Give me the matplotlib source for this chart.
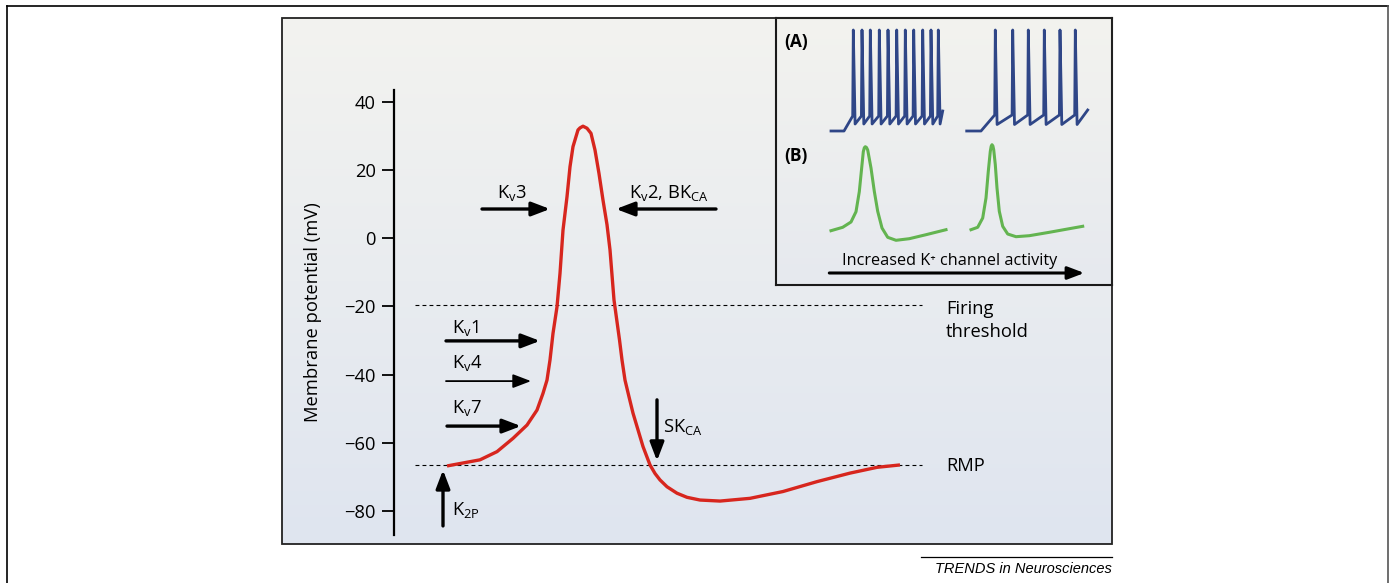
"""Action potential with K+ channel contributions (recreated figure)."""

import numpy as np
import matplotlib
matplotlib.use("Agg")
import matplotlib.pyplot as plt
from matplotlib.colors import LinearSegmentedColormap
from matplotlib.patches import Rectangle
from matplotlib.lines import Line2D

plt.rcParams["font.family"] = ["Open Sans", "DejaVu Sans"]
plt.rcParams["axes.unicode_minus"] = True

W, H = 1394, 583
FS = 13.2

# ---- main trace: action potential (time in a.u., membrane potential in mV)
ap_t = [5.3, 8.6, 10.3, 11.9, 13.3, 14.3, 14.9, 15.3, 15.6, 15.9, 16.3, 16.6,
        16.9, 17.3, 17.6, 17.9, 18.4, 18.6, 18.9, 19.3, 19.7, 20.1, 20.5, 20.9,
        21.3, 21.6, 22.0, 22.55, 22.8, 23.1, 23.5, 23.9, 24.4, 24.9, 25.6, 26.1,
        26.6, 27.3, 28.3, 29.3, 30.6, 32.6, 35.6, 38.9, 42.3, 45.6, 48.3, 50.6]
ap_mv = [-66.8, -65.0, -62.6, -58.7, -54.8, -50.4, -45.5, -41.6, -35.7, -27.9,
         -20.1, -10.3, 2.4, 12.2, 21.0, 26.9, 31.8, 32.4, 32.9, 32.3, 30.8, 25.9,
         19.0, 11.2, 4.0, -3.4, -18.1, -29.8, -35.7, -41.6, -46.5, -51.3, -56.2,
         -61.1, -66.5, -69.0, -70.9, -72.9, -74.8, -76.0, -76.8, -77.1, -76.3,
         -74.3, -71.4, -68.9, -67.2, -66.5]

yticks = [40, 20, 0, -20, -40, -60, -80]
threshold_mv = -19.5
rmp_mv = -66.6

# ---- channel arrows (horizontal: from t, to t, level mV)
h_labels = ["K$_\\mathregular{v}$1", "K$_\\mathregular{v}$4", "K$_\\mathregular{v}$7",
            "K$_\\mathregular{v}$3", "K$_\\mathregular{v}$2, BK$_\\mathregular{CA}$"]
h_from = [5.2, 5.2, 5.3, 8.8, 32.2]
h_to = [14.6, 13.7, 12.7, 15.6, 22.2]
h_mv = [-30.1, -41.9, -55.1, 8.6, 8.6]

# vertical arrows (t, from mV, to mV)
v_labels = ["K$_\\mathregular{2P}$", "SK$_\\mathregular{CA}$"]
v_t = [4.9, 26.3]
v_from = [-84.4, -47.4]
v_to = [-68.0, -65.3]

# ---- inset traces (inset units)
train_a_spikes = [77.3, 86.0, 94.3, 103.3, 112.0, 120.7, 129.3, 137.7, 146.7, 155.0, 162.3]
train_b_spikes = [219.3, 236.7, 252.3, 268.3, 284.0, 299.3]

green_a_x = [55, 66.7, 75, 80, 83.3, 85.3, 87.3, 88.3, 89.3, 90.5, 91.7, 95, 98.3,
             101.7, 106, 111.7, 120, 133.3, 150, 170]
green_a_y = [54.3, 57.7, 63, 73.3, 93.3, 113.3, 133.3, 137.2, 138.3, 137.5, 135,
             117, 93.7, 73.7, 57, 47.7, 44.7, 46.3, 50.3, 55.3]
green_b_x = [195, 201.7, 206.7, 210, 212.3, 214.3, 215.2, 216, 216.9, 217.7, 219.3,
             221, 223.3, 226.7, 231.7, 240, 253.3, 273.3, 293.3, 306.7]
green_b_y = [55.3, 57.7, 67, 87, 113.7, 133.7, 138.8, 140.3, 139, 135.3, 120.3,
             97, 73.7, 58.7, 51, 48.3, 49.3, 52.7, 56.3, 58.7]


def spike_train(x0, x1, spikes, x_end, base, pre, peak, trough):
    xs, ys = [x0, x1], [base, base]
    for s in spikes:
        xs += [s - 0.6, s, s + 1.8]
        ys += [pre, peak, trough]
    xs.append(x_end)
    ys.append(pre + 5)
    return xs, ys


def arrow(ax, start, end, lw, hl=1.1, hw=0.42):
    ax.annotate("", xy=end, xytext=start,
                arrowprops=dict(arrowstyle=f"-|>,head_length={hl},head_width={hw}",
                                lw=lw, color="black", shrinkA=0, shrinkB=0,
                                mutation_scale=10))


fig = plt.figure(figsize=(W / 100, H / 100), dpi=100)

# outer frame
fig.add_artist(Line2D([6.5 / W, 6.5 / W], [0, 1 - 5.5 / H], color="black", lw=1.2))
fig.add_artist(Line2D([6.5 / W, 1387.5 / W], [1 - 5.5 / H] * 2, color="black", lw=1.2))
fig.add_artist(Line2D([1387.5 / W] * 2, [0, 1 - 5.5 / H], color="#555555", lw=1.2))

ax = fig.add_axes([282 / W, 1 - 544 / H, 830 / W, 526 / H])
xlim = (-11.2, 71.8)
ylim = (-89.7, 64.65)
grad = LinearSegmentedColormap.from_list("bg", ["#dfe5f0", "#f3f3ef"])
ax.imshow(np.linspace(0, 1, 256).reshape(-1, 1), extent=[*xlim, *ylim],
          aspect="auto", cmap=grad, origin="lower", zorder=0)
ax.set_xlim(*xlim)
ax.set_ylim(*ylim)

for s in ["top", "right", "bottom"]:
    ax.spines[s].set_visible(False)
ax.spines["left"].set_position(("data", 0))
ax.spines["left"].set_bounds(-87, 43.5)
ax.spines["left"].set_linewidth(1.6)
ax.set_xticks([])
ax.set_yticks(yticks)
ax.tick_params(axis="y", length=8.5, width=1.3, pad=4.5, labelsize=FS)
ax.text(-8.1, -21.8, "Membrane potential (mV)", rotation=90, ha="center",
        va="center", fontsize=FS)

# threshold / RMP
ax.hlines([threshold_mv, rmp_mv], 2.1, 52.8, colors="black", lw=0.8,
          linestyles=(0, (3.5, 2.8)), zorder=2)
ax.text(55.2, -22.3, "Firing", ha="left", va="baseline", fontsize=FS)
ax.text(55.2, -29.0, "threshold", ha="left", va="baseline", fontsize=FS)
ax.text(55.2, -68.2, "RMP", ha="left", va="baseline", fontsize=FS)

# action potential
ax.plot(ap_t, ap_mv, color="#d7261e", lw=2.4, solid_joinstyle="round",
        solid_capstyle="butt", zorder=4)

# arrows
lws = [2.4, 1.3, 2.4, 2.4, 2.4]
lab_t = [5.8, 5.8, 5.8, 10.3, 23.5]
lab_mv = [-27.8, -38.1, -51.3, 11.7, 11.7]
for i, lab in enumerate(h_labels):
    arrow(ax, (h_from[i], h_mv[i]), (h_to[i], h_mv[i]), lws[i])
    ax.text(lab_t[i], lab_mv[i], lab, ha="left", va="baseline", fontsize=FS)

vlab_t = [5.8, 26.9]
vlab_mv = [-81.2, -56.7]
for i, lab in enumerate(v_labels):
    arrow(ax, (v_t[i], v_from[i]), (v_t[i], v_to[i]), 2.4)
    ax.text(vlab_t[i], vlab_mv[i], lab, ha="left", va="baseline", fontsize=FS)

# panel border
fig.add_artist(Rectangle((282 / W, 1 - 544 / H), 830 / W, 526 / H,
                         transform=fig.transFigure, fill=False, lw=1.3,
                         ec="#222222"))

# ---- inset
axi = fig.add_axes([776 / W, 1 - 285 / H, 336 / W, 267 / H])
axi.set_xlim(0, 336)
axi.set_ylim(0, 267)
grad2 = LinearSegmentedColormap.from_list("bg2", ["#e6e9ee", "#f3f3ef"])
axi.imshow(np.linspace(0, 1, 256).reshape(-1, 1), extent=[0, 336, 0, 267],
           aspect="auto", cmap=grad2, origin="lower", zorder=0)
axi.set_xticks([])
axi.set_yticks([])
for s in axi.spines.values():
    s.set_linewidth(1.5)
    s.set_edgecolor("#1a1a1a")

xa, ya = spike_train(55, 68, train_a_spikes, 166.7, 154, 169, 255, 161)
xb, yb = spike_train(190.7, 205, train_b_spikes, 311.7, 154, 170, 255, 160.5)
for xs, ys in [(xa, ya), (xb, yb)]:
    axi.plot(xs, ys, color="#2f4687", lw=2.0, solid_joinstyle="round")
axi.plot(green_a_x, green_a_y, color="#63b450", lw=2.2, solid_joinstyle="round")
axi.plot(green_b_x, green_b_y, color="#63b450", lw=2.2, solid_joinstyle="round")

axi.text(8, 243, "(A)", fontsize=12.5, fontweight="bold", va="center")
axi.text(8, 129, "(B)", fontsize=12.5, fontweight="bold", va="center")
arrow(axi, (53.3, 12), (308.3, 12), 2.2, hl=1.0, hw=0.38)
axi.text(173.3, 24, "Increased K\u207a channel activity", ha="center",
         va="center", fontsize=11.7)

# journal tag
fig.add_artist(Line2D([921 / W, 1112 / W], [1 - 557 / H] * 2, color="black", lw=0.9))
fig.text(1112 / W, 1 - 573 / H, "TRENDS in Neurosciences", ha="right",
         va="baseline", fontsize=10.5, style="italic", family="Liberation Sans")

fig.savefig("out.png", dpi=100, facecolor="white")
